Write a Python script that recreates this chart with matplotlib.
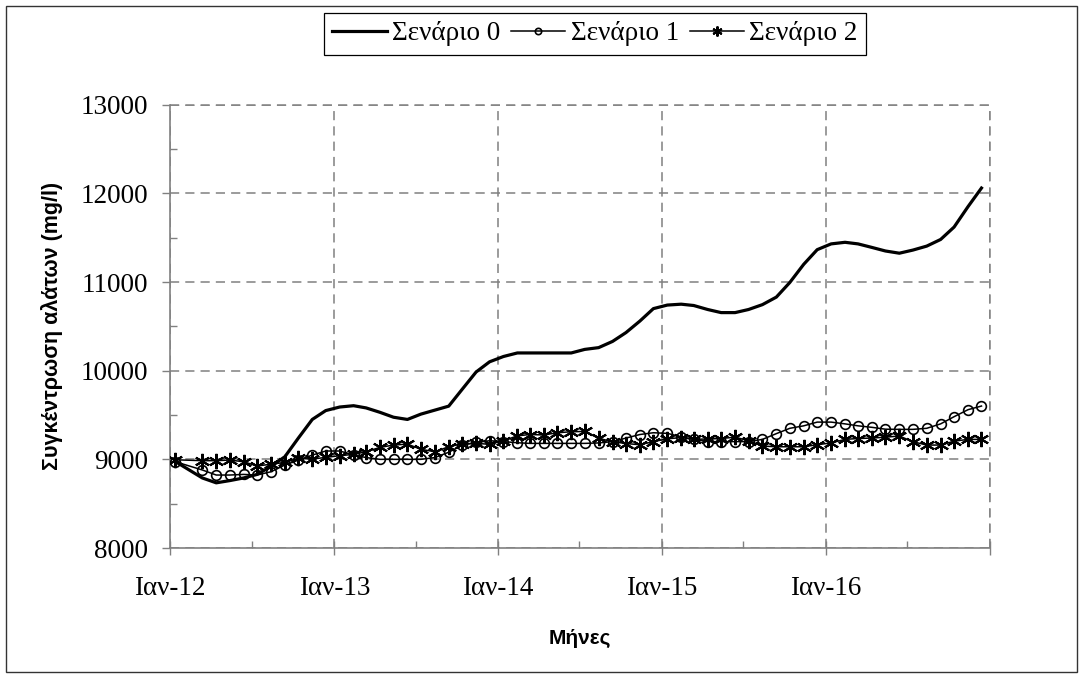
"""
Salt concentration scenarios, monthly, Jan 2012 - Dec 2016.

    python3 plot.py     # writes out.png
"""

from __future__ import annotations

import matplotlib

matplotlib.use("Agg")

import matplotlib.dates as mdates
import matplotlib.pyplot as plt
import pandas as pd
from matplotlib.patches import Rectangle
from matplotlib.ticker import MultipleLocator

OUTPUT_PATH = "out.png"

# first sample mid-Jan 2012, then monthly from Mar 2012 to Dec 2016
DATES = [pd.Timestamp("2012-01-13")] + list(
    pd.date_range("2012-03-01", "2016-12-01", freq="MS") + pd.Timedelta(days=12)
)

SCENARIO_0 = [
    8975, 8790, 8735, 8760, 8790, 8830, 8920, 9030, 9240, 9450,
    9550, 9590, 9605, 9580, 9530, 9475, 9450, 9510, 9555, 9600,
    9790, 9985, 10100, 10160, 10200, 10200, 10200, 10200, 10200, 10240,
    10260, 10330, 10430, 10560, 10700, 10740, 10750, 10735, 10690, 10655,
    10655, 10690, 10745, 10830, 10995, 11200, 11365, 11430, 11448, 11430,
    11390, 11350, 11325, 11360, 11405, 11480, 11620, 11850, 12060,
]

SCENARIO_1 = [
    8973, 8880, 8823, 8823, 8830, 8823, 8860, 8936, 8992, 9048,
    9094, 9094, 9050, 9020, 9000, 9000, 9000, 9000, 9020, 9080,
    9160, 9190, 9210, 9200, 9187, 9180, 9180, 9180, 9180, 9180,
    9185, 9200, 9240, 9280, 9300, 9293, 9255, 9225, 9200, 9200,
    9200, 9200, 9225, 9290, 9350, 9378, 9420, 9420, 9400, 9378,
    9361, 9340, 9338, 9338, 9350, 9400, 9481, 9560, 9601,
]

SCENARIO_2 = [
    8995, 8985, 8985, 8992, 8973, 8925, 8945, 8965, 9011, 9003,
    9022, 9041, 9056, 9086, 9135, 9161, 9172, 9113, 9086, 9142,
    9175, 9180, 9170, 9210, 9265, 9280, 9275, 9300, 9311, 9315,
    9237, 9199, 9178, 9165, 9199, 9232, 9245, 9225, 9230, 9235,
    9250, 9210, 9150, 9142, 9142, 9142, 9165, 9185, 9225, 9235,
    9240, 9250, 9263, 9199, 9161, 9161, 9205, 9225, 9225,
]

SERIES_LABELS = ["Σενάριο 0", "Σενάριο 1", "Σενάριο 2"]
YEAR_TICKS = ["2012-01-01", "2013-01-01", "2014-01-01", "2015-01-01", "2016-01-01", "2017-01-01"]
YEAR_LABELS = ["Ιαν-12", "Ιαν-13", "Ιαν-14", "Ιαν-15", "Ιαν-16", ""]
X_LABEL = "Μήνες"
Y_LABEL = "Συγκέντρωση αλάτων (mg/l)"

SERIF = "Liberation Serif"
SANS = "Liberation Sans"
GRID = "#808080"


def plot(output: str) -> None:
    W, H = 1083, 678
    fig = plt.figure(figsize=(W / 100, H / 100), dpi=100)
    ax = fig.add_axes([170 / W, 1 - 548 / H, 820 / W, 443.3 / H])

    ax.plot(DATES, SCENARIO_0, color="black", linewidth=2.3, label=SERIES_LABELS[0], zorder=4)
    ax.plot(
        DATES, SCENARIO_1, color="black", linewidth=1.1, marker="o", markersize=7,
        markerfacecolor="none", markeredgewidth=1.2, label=SERIES_LABELS[1], zorder=3,
    )
    ax.plot(
        DATES, SCENARIO_2, color="black", linewidth=1.1, marker=(6, 2, 0), markersize=11,
        markeredgewidth=1.5, label=SERIES_LABELS[2], zorder=3,
    )

    # axes
    ax.set_xlim(pd.Timestamp(YEAR_TICKS[0]), pd.Timestamp(YEAR_TICKS[-1]))
    ax.set_ylim(8000, 13000)
    ticks = [pd.Timestamp(t) for t in YEAR_TICKS]
    ax.set_xticks(ticks)
    ax.set_xticklabels(YEAR_LABELS)
    ax.xaxis.set_minor_locator(mdates.MonthLocator(bymonth=7))
    ax.yaxis.set_major_locator(MultipleLocator(1000))
    ax.yaxis.set_minor_locator(MultipleLocator(500))

    for side in ("top", "right"):
        ax.spines[side].set_visible(False)
    for side in ("left", "bottom"):
        ax.spines[side].set_color(GRID)
        ax.spines[side].set_linewidth(1.2)

    ax.tick_params(axis="x", which="major", direction="inout", length=10, width=1, color=GRID, pad=15)
    ax.tick_params(axis="x", which="minor", direction="in", length=5, width=1, color=GRID)
    ax.tick_params(axis="y", which="major", direction="out", length=6, width=1, color=GRID, pad=10)
    ax.tick_params(axis="y", which="minor", direction="in", length=5, width=1, color=GRID)
    for lab in ax.get_xticklabels() + ax.get_yticklabels():
        lab.set_fontfamily(SERIF)
        lab.set_fontsize(19.5)

    ax.grid(True, which="major", color=GRID, linestyle=(0, (6, 4)), linewidth=1.1)
    # closing dashed lines at the far edges of the plot area
    ax.axhline(13000, color=GRID, linestyle=(0, (6, 4)), linewidth=1.1, clip_on=False)
    ax.axvline(ticks[-1], color=GRID, linestyle=(0, (6, 4)), linewidth=1.1, clip_on=False)

    ax.set_xlabel(X_LABEL, family=SANS, fontweight="bold", fontsize=15, labelpad=20)
    ax.set_ylabel(Y_LABEL, family=SANS, fontweight="bold", fontsize=15.5, labelpad=12)

    fig.legend(
        loc="center", bbox_to_anchor=(595 / W, 1 - 34 / H), ncol=3,
        prop={"family": SERIF, "size": 19.5}, frameon=True, fancybox=False,
        edgecolor="black", framealpha=1, handlelength=2.0, handletextpad=0.2,
        columnspacing=0.4, borderpad=0.3, markerscale=0.65,
    ).get_frame().set_linewidth(0.9)

    # chart-area border
    fig.patches.append(
        Rectangle((6 / W, 6 / H), 1 - 12 / W, 1 - 12 / H, transform=fig.transFigure,
                  fill=False, edgecolor="#333333", linewidth=1)
    )

    fig.savefig(output, dpi=100)
    print(f"Wrote {output}")


def main() -> None:
    plot(OUTPUT_PATH)


if __name__ == "__main__":
    main()
